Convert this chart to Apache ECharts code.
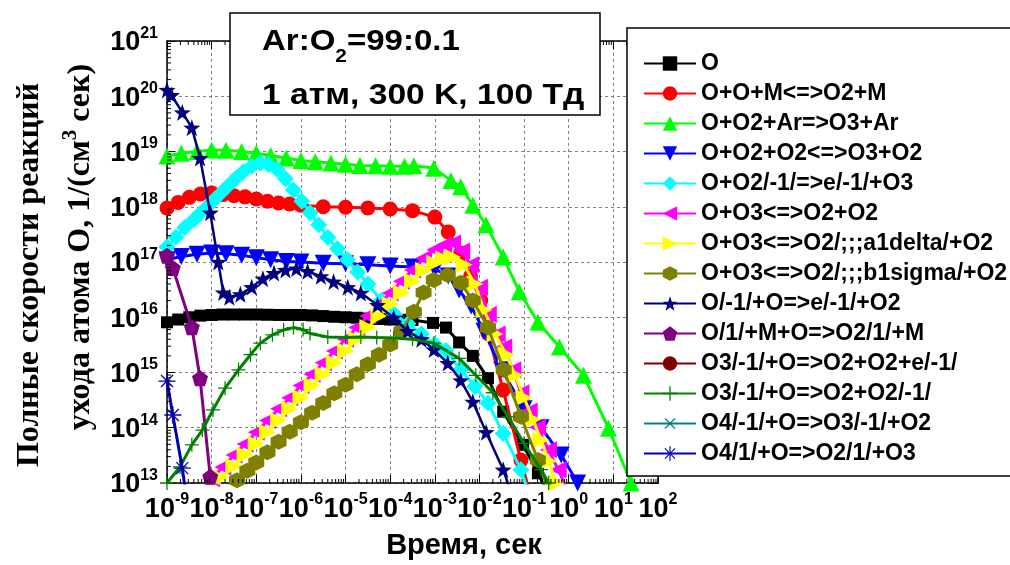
<!DOCTYPE html>
<html><head><meta charset="utf-8">
<script src="https://cdn.jsdelivr.net/npm/echarts@6/dist/echarts.min.js"></script>
<style>html,body{margin:0;padding:0;background:#fff}#c{width:1010px;height:565px}</style>
</head><body><div id="c"></div>
<script>
// ---------------- data (time in s, rate in 1/(cm^3 s)) ----------------
const seriesNames = ['O','O+O+M<=>O2+M','O+O2+Ar=>O3+Ar','O+O2+O2<=>O3+O2','O+O2/-1/=>e/-1/+O3','O+O3<=>O2+O2','O+O3<=>O2/;;;a1delta/+O2','O+O3<=>O2/;;;b1sigma/+O2','O/-1/+O=>e/-1/+O2','O/1/+M+O=>O2/1/+M','O3/-1/+O=>O2+O2+e/-1/','O3/-1/+O=>O2+O2/-1/','O4/-1/+O=>O3/-1/+O2','O4/1/+O=>O2/1/+O3'];
const xTickExps = [-9,-8,-7,-6,-5,-4,-3,-2,-1,0,1,2];
const yTickExps = [13,14,15,16,17,18,19,20,21];

const dataO = [[1e-9,8.1e15],[1.78e-9,9.1e15],[3.16e-9,1.0e16],[5.6e-9,1.07e16],[1e-8,1.1e16],[1.78e-8,1.12e16],[3.16e-8,1.12e16],[5.6e-8,1.12e16],[1e-7,1.12e16],[1.78e-7,1.11e16],[3.16e-7,1.1e16],[5.6e-7,1.1e16],[1e-6,1.1e16],[1.78e-6,1.08e16],[3.16e-6,1.05e16],[5.6e-6,1.02e16],[1e-5,1.0e16],[1.78e-5,9.8e15],[3.16e-5,9.5e15],[5.6e-5,9.3e15],[1e-4,9.1e15],[1.78e-4,9.0e15],[3.16e-4,8.9e15],[9.1e-4,7.9e15],[1.78e-3,6.5e15],[3.5e-3,3.5e15],[7.1e-3,2.0e15],[1.55e-2,7.9e14],[3.4e-2,1.95e14],[9.5e-2,4.9e13],[0.204,1.5e13],[0.3,8e12]];
const dataOOM = [[1e-9,9.5e17],[1.78e-9,1.2e18],[3.16e-9,1.48e18],[5.6e-9,1.7e18],[1e-8,1.78e18],[1.78e-8,1.66e18],[3.16e-8,1.58e18],[5.6e-8,1.51e18],[1e-7,1.38e18],[1.78e-7,1.26e18],[3.16e-7,1.17e18],[5.6e-7,1.12e18],[1e-6,1.07e18],[3.16e-6,1.0e18],[1e-5,9.8e17],[3.16e-5,9.5e17],[1e-4,9.1e17],[3.16e-4,8.5e17],[1e-3,6.5e17],[2e-3,3.5e17],[3.8e-3,1.45e17],[6.3e-3,5.5e16],[1.07e-2,2.0e16],[1.55e-2,5.1e15],[3.4e-2,4.8e14],[8.5e-2,2.6e13],[0.126,8e12]];
const dataOO2Ar = [[1e-9,8.3e18],[2.1e-9,9.3e18],[4.7e-9,1.0e19],[1e-8,1.07e19],[2.1e-8,1.05e19],[4.7e-8,1.0e19],[1e-7,9.3e18],[2.1e-7,8.5e18],[4.7e-7,7.6e18],[1e-6,6.9e18],[2.1e-6,6.5e18],[4.7e-6,6.2e18],[1e-5,5.9e18],[2.1e-5,5.6e18],[4.7e-5,5.5e18],[1e-4,5.4e18],[2.1e-4,5.4e18],[3.4e-4,5.5e18],[9.5e-4,5.0e18],[2.3e-3,3.0e18],[3.8e-3,2.3e18],[7.1e-3,1.07e18],[1.4e-2,4.7e17],[3.4e-2,1.23e17],[7.8e-2,2.9e16],[0.204,8.1e15],[0.62,2.9e15],[2.14,8.9e14],[7.8,9.8e13],[25,1e13],[32,6e12]];
const dataOO2O2 = [[1e-9,1.1e17],[2.1e-9,1.26e17],[4.7e-9,1.38e17],[1e-8,1.45e17],[2.1e-8,1.41e17],[4.7e-8,1.32e17],[1e-7,1.2e17],[2.1e-7,1.1e17],[4.7e-7,1.02e17],[1e-6,1.0e17],[3.16e-6,9.5e16],[1e-5,9.3e16],[3.16e-5,8.9e16],[1e-4,8.5e16],[3.16e-4,8.1e16],[1e-3,7.4e16],[2e-3,5.6e16],[3.5e-3,3.1e16],[6.5e-3,1.6e16],[1.26e-2,5.6e15],[3.16e-2,1.12e15],[0.1,2.2e14],[0.24,1.0e14],[0.68,3.2e13],[1.58,1e13],[2.5,6.3e12]];
const dataOO2m = [[1e-9,1.86e17],[1.58e-9,2.8e17],[2.5e-9,4.2e17],[4e-9,5.8e17],[5.6e-9,7.6e17],[7.9e-9,1e18],[1.12e-8,1.32e18],[1.58e-8,1.74e18],[2.24e-8,2.3e18],[3.4e-8,3.2e18],[5.1e-8,4.3e18],[7.9e-8,5.4e18],[1.23e-7,6.2e18],[1.9e-7,5.8e18],[2.95e-7,4.7e18],[4.5e-7,3.2e18],[6.8e-7,2.0e18],[1.05e-6,1.26e18],[1.6e-6,7.8e17],[2.5e-6,4.7e17],[4e-6,2.8e17],[6.6e-6,1.74e17],[1.1e-5,1.1e17],[1.86e-5,6.6e16],[3.16e-5,4e16],[6.3e-5,2e16],[1.26e-4,1.12e16],[2.5e-4,7.6e15],[5e-4,5e15],[1e-3,3.2e15],[1.78e-3,2.5e15],[3.8e-3,1.12e15],[7.9e-3,5.6e14],[1.55e-2,2.8e14],[3.4e-2,7.9e13],[8.5e-2,1.74e13],[0.112,9e12]];
const dataOO3 = [[7.9e-9,8.5e12],[1e-8,1.2e13],[1.78e-8,1.95e13],[3.16e-8,3.2e13],[5.6e-8,5.1e13],[1e-7,8.3e13],[1.78e-7,1.35e14],[3.16e-7,2.2e14],[5.6e-7,3.5e14],[1e-6,5.8e14],[1.78e-6,9.3e14],[3.16e-6,1.5e15],[5.6e-6,2.45e15],[1e-5,4e15],[1.78e-5,6.5e15],[3.16e-5,1.05e16],[5.6e-5,1.7e16],[1e-4,2.75e16],[1.78e-4,4.5e16],[3.16e-4,7.2e16],[5.6e-4,1.17e17],[1e-3,1.66e17],[1.58e-3,2e17],[2.5e-3,2.2e17],[4e-3,1.58e17],[6.3e-3,8.9e16],[1e-2,3.5e16],[1.58e-2,1.12e16],[2.5e-2,5e15],[3.5e-2,2.9e15],[5.6e-2,1.12e15],[8.5e-2,4.3e14],[0.13,2e14],[0.2,1.02e14],[0.35,4e13],[0.58,1.74e13],[0.9,7.9e12]];
const dataOO3a = [[1.41e-8,8.5e12],[1.58e-8,1.26e13],[3.16e-8,2e13],[5.6e-8,3.2e13],[1e-7,5.1e13],[1.78e-7,8.3e13],[3.16e-7,1.35e14],[5.6e-7,2.2e14],[1e-6,3.5e14],[1.78e-6,5.8e14],[3.16e-6,9.3e14],[5.6e-6,1.5e15],[1e-5,2.45e15],[1.78e-5,4e15],[3.16e-5,6.5e15],[5.6e-5,1.05e16],[1e-4,1.7e16],[1.78e-4,2.75e16],[3.16e-4,4.5e16],[5.6e-4,7.1e16],[1e-3,9.5e16],[1.58e-3,1.15e17],[2.5e-3,1.23e17],[4.5e-3,8.9e16],[7.9e-3,4e16],[1.26e-2,1.35e16],[2.24e-2,5e15],[4e-2,2.1e15],[6.3e-2,8.9e14],[0.1,3.5e14],[0.158,1.41e14],[0.24,6e13],[0.355,2.5e13],[0.52,1e13],[0.63,7e12]];
const dataOO3b = [[3.3e-8,8.5e12],[3.7e-8,1.12e13],[6.3e-8,1.66e13],[1e-7,2.35e13],[1.78e-7,3.6e13],[3.16e-7,5.6e13],[5.6e-7,8.5e13],[1e-6,1.26e14],[1.78e-6,1.86e14],[3.16e-6,2.8e14],[5.6e-6,4.2e14],[1e-5,6e14],[1.78e-5,9.3e14],[3.16e-5,1.41e15],[5.6e-5,2.1e15],[1e-4,3.2e15],[1.78e-4,5.6e15],[3.4e-4,1.26e16],[5.6e-4,2.8e16],[9.5e-4,4.7e16],[1.95e-3,5.8e16],[3.8e-3,4.2e16],[7.1e-3,2e16],[1.55e-2,6.5e15],[3.5e-2,1.12e15],[8.5e-2,1.58e14],[0.204,2.6e13],[0.32,9e12]];
const dataOmO = [[1e-9,1.3e20],[1.26e-9,1.05e20],[2.2e-9,5.1e19],[3.6e-9,2.7e19],[5.5e-9,7.6e18],[9.3e-9,7.8e17],[1.41e-8,1e17],[1.82e-8,2.8e16],[2.5e-8,2.3e16],[4.4e-8,2.6e16],[7.9e-8,3.5e16],[1.41e-7,5e16],[2.5e-7,6.3e16],[4.5e-7,7.2e16],[7.9e-7,7.6e16],[1.41e-6,6.8e16],[2.8e-6,5.5e16],[5.4e-6,4.4e16],[1.12e-5,3.5e16],[2.2e-5,2.75e16],[5.2e-5,1.66e16],[1.2e-4,9.8e15],[2.45e-4,5.6e15],[5e-4,4e15],[9.5e-4,2.6e15],[1.95e-3,1.48e15],[3.8e-3,7.2e14],[7.1e-3,2.95e14],[1.41e-2,8.3e13],[3.4e-2,1.74e13],[4.5e-2,9e12]];
const dataO1MO = [[1e-9,1.3e17],[1.35e-9,7.8e16],[3.6e-9,6.6e15],[5.5e-9,7.9e14],[9.3e-9,1.3e13],[1e-8,8e12]];
const dataO3mOe = [];
const dataO3mO = [[1e-9,1e13],[1.95e-9,1.95e13],[3.6e-9,4.9e13],[6.2e-9,9.1e13],[1.07e-8,2.1e14],[2e-8,5.2e14],[4e-8,1.12e15],[7.4e-8,2.1e15],[1.23e-7,3.4e15],[2.3e-7,4.8e15],[4.1e-7,5.9e15],[6.8e-7,6.5e15],[1.12e-6,6e15],[1.6e-6,5.1e15],[4e-6,4.4e15],[1e-5,4.3e15],[2.2e-5,4.4e15],[5e-5,4.3e15],[1.2e-4,4.2e15],[3.16e-4,4e15],[9.5e-4,3.4e15],[3.5e-3,1.8e15],[8.3e-3,8.9e14],[2e-2,4.3e14],[4.4e-2,1.58e14],[0.1,5.2e13],[0.24,1.74e13],[0.355,1e13],[0.42,8e12]];
const dataO4mO = [];
const dataO41O = [[1e-9,7e14],[1.35e-9,1.7e14],[2.2e-9,1.86e13],[2.5e-9,9e12]];

const seriesData = [dataO,dataOOM,dataOO2Ar,dataOO2O2,dataOO2m,dataOO3,dataOO3a,dataOO3b,dataOmO,dataO1MO,dataO3mOe,dataO3mO,dataO4mO,dataO41O];

// ---------------- styles ----------------
const FONT = '"Liberation Sans", Arial, Helvetica, sans-serif';
const SERIF = '"Liberation Serif", "Times New Roman", serif';
const HEX = 'path://M0,-10 L8.66,-5 L8.66,5 L0,10 L-8.66,5 L-8.66,-5 Z';
const STAR = 'path://M0,-10 L2.35,-3.24 L9.51,-3.09 L3.8,1.24 L5.88,8.09 L0,4 L-5.88,8.09 L-3.8,1.24 L-9.51,-3.09 L-2.35,-3.24 Z';
const PENT = 'path://M0,-10 L9.51,-3.09 L5.88,8.09 L-5.88,8.09 L-9.51,-3.09 Z';
const PLUS = 'path://M-0.9,-10 L0.9,-10 L0.9,-0.9 L10,-0.9 L10,0.9 L0.9,0.9 L0.9,10 L-0.9,10 L-0.9,0.9 L-10,0.9 L-10,-0.9 L-0.9,-0.9 Z';
const AST = 'path://M-0.8,-10 L0.8,-10 L0.8,10 L-0.8,10 Z M-10,-0.8 L10,-0.8 L10,0.8 L-10,0.8 Z M-7.6,-6.5 L-6.5,-7.6 L7.6,6.5 L6.5,7.6 Z M-7.6,6.5 L6.5,-7.6 L7.6,-6.5 L-6.5,7.6 Z';
const styles = [
  {color:'#000000', symbol:'rect', size:12, lw:3},
  {color:'#ff0000', symbol:'circle', size:15, lw:3},
  {color:'#00ff00', symbol:'triangle', size:17, lw:3},
  {color:'#0000ff', symbol:'triangle', size:17, rotate:180, lw:3},
  {color:'#00ffff', symbol:'diamond', size:17, lw:3},
  {color:'#ff00ff', symbol:'triangle', size:17, rotate:90, lw:3},
  {color:'#ffff00', symbol:'triangle', size:17, rotate:-90, lw:3},
  {color:'#808000', symbol:HEX, size:16, lw:3},
  {color:'#000080', symbol:STAR, size:17, lw:2.5},
  {color:'#800080', symbol:PENT, size:16, lw:3},
  {color:'#800000', symbol:'circle', size:13, lw:3},
  {color:'#008000', symbol:PLUS, size:14, lw:3},
  {color:'#008080', symbol:PLUS, size:15, rotate:45, lw:3},
  {color:'#0000b0', symbol:AST, size:17, lw:3},
];

// minor log tick positions (2..9 x 10^e)
const xMinor = [], yMinor = [];
for (let e = -9; e < 2; e++) for (let k = 2; k < 10; k++) xMinor.push(k * Math.pow(10, e));
for (let e = 13; e < 21; e++) for (let k = 2; k < 10; k++) yMinor.push(k * Math.pow(10, e));

const chart = echarts.init(document.getElementById('c'), null, {renderer:'canvas'});

const expLabel = v => '{b|10}{s|' + Math.round(Math.log10(v)) + '}';
const tickRich = {
  b: {fontFamily: FONT, fontWeight: 'bold', fontSize: 27, color: '#000', verticalAlign: 'bottom', lineHeight: 27},
  s: {fontFamily: FONT, fontWeight: 'bold', fontSize: 16, color: '#000', verticalAlign: 'top', lineHeight: 31}
};

const series = seriesNames.map((n, i) => ({
  name: n, type: 'line', data: seriesData[i], xAxisIndex: 0, yAxisIndex: 0,
  symbol: styles[i].symbol, symbolSize: styles[i].size, symbolRotate: styles[i].rotate || 0,
  showAllSymbol: true, smooth: false, clip: true,
  lineStyle: {color: styles[i].color, width: styles[i].lw},
  itemStyle: {color: styles[i].color, borderWidth: 0},
  emphasis: {disabled: true}, z: 2 + i * 0.01
}));

const tickRender = (dir) => (params, api) => {
  const v = api.value(dir === 'x' ? 0 : 1);
  const L = 4, ch = [];
  if (dir === 'x') {
    const a = api.coord([v, 1e13]), b = api.coord([v, 1e21]);
    ch.push({type:'line', shape:{x1:a[0], y1:a[1], x2:a[0], y2:a[1]-L}, style:{stroke:'#000', lineWidth:1}});
    ch.push({type:'line', shape:{x1:b[0], y1:b[1], x2:b[0], y2:b[1]+L}, style:{stroke:'#000', lineWidth:1}});
  } else {
    const a = api.coord([1e-9, v]), b = api.coord([1e2, v]);
    ch.push({type:'line', shape:{x1:a[0], y1:a[1], x2:a[0]+L, y2:a[1]}, style:{stroke:'#000', lineWidth:1}});
    ch.push({type:'line', shape:{x1:b[0], y1:b[1], x2:b[0]-L, y2:b[1]}, style:{stroke:'#000', lineWidth:1}});
  }
  return {type:'group', children: ch};
};
series.push({type:'custom', coordinateSystem:'cartesian2d', data: xMinor.map(v => [v, 1e13]), renderItem: tickRender('x'), clip:false, silent:true, z:5});
series.push({type:'custom', coordinateSystem:'cartesian2d', data: yMinor.map(v => [1e-9, v]), renderItem: tickRender('y'), clip:false, silent:true, z:5});

// text measuring
const mctx = document.createElement('canvas').getContext('2d');
const tw = (t, f) => { mctx.font = f; return mctx.measureText(t).width; };

const graphics = [];
// annotation box
graphics.push({type:'rect', shape:{x:230, y:13, width:370, height:102}, style:{fill:'#fff', stroke:'#000', lineWidth:1.5}, z:100});
const aF = 'bold 30px ' + FONT, aS = 'bold 19px ' + FONT, SX = 1.1;
let ax = 262;
graphics.push({type:'text', x:ax, y:42, scaleX:SX, z:101, style:{text:'Ar:O', font:aF, fill:'#000', textAlign:'left', textVerticalAlign:'middle'}});
ax += tw('Ar:O', aF) * SX;
graphics.push({type:'text', x:ax, y:57, scaleX:SX, z:101, style:{text:'2', font:aS, fill:'#000', textAlign:'left', textVerticalAlign:'middle'}});
ax += tw('2', aS) * SX;
graphics.push({type:'text', x:ax, y:42, scaleX:SX, z:101, style:{text:'=99:0.1', font:aF, fill:'#000', textAlign:'left', textVerticalAlign:'middle'}});
graphics.push({type:'text', x:262, y:96, scaleX:1.12, z:101, style:{text:'1 атм, 300 K, 100 Тд', font:aF, fill:'#000', textAlign:'left', textVerticalAlign:'middle'}});

// x axis title
graphics.push({type:'text', x:464, y:546, z:101, style:{text:'Время, сек', font:'bold 29px ' + FONT, fill:'#000', textAlign:'center', textVerticalAlign:'middle'}});

// y axis title (rotated, two lines)
const yF = 'bold 32px ' + SERIF, yS = 'bold 21px ' + SERIF;
graphics.push({type:'text', x:30, y:275, rotation:Math.PI/2, z:101, style:{text:'Полные скорости реакций', font:yF, fill:'#000', textAlign:'center', textVerticalAlign:'middle'}});
{
  const p1 = 'ухода атома O, 1/(см', p2 = '3', p3 = ' сек)';
  const w1 = tw(p1, yF), w2 = tw(p2, yS), w3 = tw(p3, yF);
  const total = w1 + w2 + w3, cy = 247, cx = 81;
  let yy = cy + total / 2; // start at bottom (text reads bottom-to-top)
  graphics.push({type:'text', x:cx, y:yy, rotation:Math.PI/2, z:101, style:{text:p1, font:yF, fill:'#000', textAlign:'left', textVerticalAlign:'middle'}});
  yy -= w1;
  graphics.push({type:'text', x:cx - 10, y:yy, rotation:Math.PI/2, z:101, style:{text:p2, font:yS, fill:'#000', textAlign:'left', textVerticalAlign:'middle'}});
  yy -= w2;
  graphics.push({type:'text', x:cx, y:yy, rotation:Math.PI/2, z:101, style:{text:p3, font:yF, fill:'#000', textAlign:'left', textVerticalAlign:'middle'}});
}

const option = {
  animation: false,
  backgroundColor: '#fff',
  grid: {left:167, top:41, width:491, height:442, containLabel:false},
  legend: {
    data: seriesNames, orient: 'vertical', left: 627, top: 28,
    padding: [24, 40, 11, 16], itemGap: 7, itemWidth: 52, itemHeight: 18,
    backgroundColor: '#fff', borderColor: '#000', borderWidth: 1.5, selectedMode: false,
    textStyle: {fontFamily: FONT, fontWeight: 'bold', fontSize: 23, color: '#000', lineHeight: 22},
    z: 50
  },
  xAxis: [
    {type:'log', logBase:10, min:1e-9, max:1e2, interval:1, position:'bottom',
     axisLine:{show:true, onZero:false, lineStyle:{color:'#000', width:1.5}},
     axisTick:{show:true, inside:true, length:8, lineStyle:{color:'#000', width:1}},
     minorTick:{show:false},
     axisLabel:{show:true, margin:9, formatter: expLabel, rich: tickRich, hideOverlap:false},
     splitLine:{show:true, lineStyle:{color:'#808080', type:[3,3], width:1}}},
    {type:'log', logBase:10, min:1e-9, max:1e2, interval:1, position:'top',
     axisLine:{show:true, onZero:false, lineStyle:{color:'#000', width:1.5}},
     axisTick:{show:true, inside:true, length:8, lineStyle:{color:'#000', width:1}},
     axisLabel:{show:false}, splitLine:{show:false}}
  ],
  yAxis: [
    {type:'log', logBase:10, min:1e13, max:1e21, interval:1, position:'left',
     axisLine:{show:true, onZero:false, lineStyle:{color:'#000', width:1.5}},
     axisTick:{show:true, inside:true, length:8, lineStyle:{color:'#000', width:1}},
     axisLabel:{show:true, margin:9, formatter: expLabel, rich: tickRich},
     splitLine:{show:true, lineStyle:{color:'#808080', type:[3,3], width:1}}},
    {type:'log', logBase:10, min:1e13, max:1e21, interval:1, position:'right',
     axisLine:{show:true, onZero:false, lineStyle:{color:'#000', width:1.5}},
     axisTick:{show:true, inside:true, length:8, lineStyle:{color:'#000', width:1}},
     axisLabel:{show:false}, splitLine:{show:false}}
  ],
  series: series,
  graphic: graphics
};
chart.setOption(option);
</script>
</body></html>
